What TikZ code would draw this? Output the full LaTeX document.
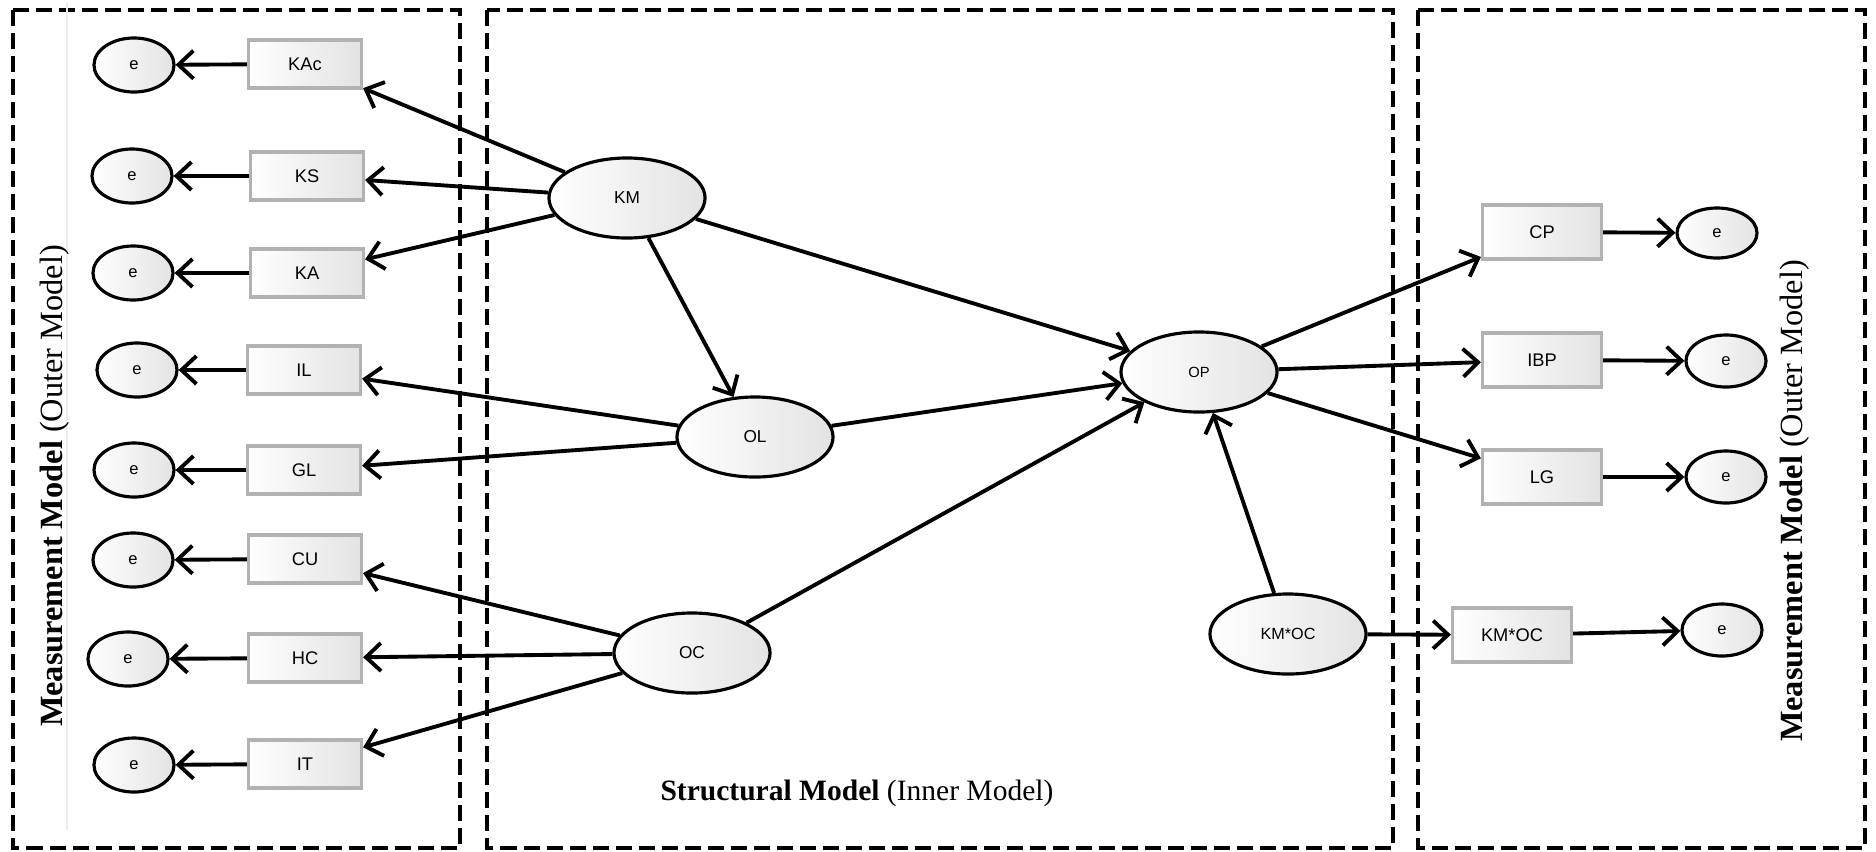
\documentclass[tikz,border=0pt]{standalone}
\usepackage{fontspec}
\setmainfont{Liberation Serif}
\setsansfont{Liberation Sans}
\usetikzlibrary{positioning,arrows.meta,shapes.geometric}
\tikzset{
  ind/.style={rectangle, draw=gray!60, line width=0.9pt, left color=white, right color=gray!22,
    minimum width=1.13cm, minimum height=0.48cm, inner sep=0pt, font=\sffamily\fontsize{5.2}{6}\selectfont},
  indr/.style={ind, minimum width=1.19cm, minimum height=0.54cm},
  lat/.style={ellipse, draw=black, line width=0.9pt, left color=white, right color=gray!22,
    minimum width=1.56cm, minimum height=0.8cm, inner sep=0pt, font=\sffamily\fontsize{4.9}{6}\selectfont},
  err/.style={lat, minimum width=0.8cm, minimum height=0.54cm, font=\sffamily\fontsize{4.7}{6}\selectfont},
  arrow/.style={-{Straight Barb[length=1.5mm,width=2.8mm]}, line width=1.1pt},
  zone/.style={draw, dash pattern=on 1.6mm off 0.7mm, line width=1.4pt}
}
\begin{document}
\begin{tikzpicture}[x=0.01cm, y=-0.01cm]
  \useasboundingbox (0,0) rectangle (1876,851);
  % the three parts of the model
  \draw[zone] (13,10) rectangle (460,848);
  \draw[zone] (487,10) rectangle (1393,848);
  \draw[zone] (1418,10) rectangle (1865,848);
  \draw[gray!15, line width=0.5pt] (67,3) -- (67,830);

  \node[rotate=90, font=\fontsize{9.2}{11}\selectfont] (mleft) at (55,486) {\textbf{Measurement Model} (Outer Model)};
  \node[rotate=90, font=\fontsize{9.2}{11}\selectfont] (mright) at (1795,501) {\textbf{Measurement Model} (Outer Model)};
  \node[font=\fontsize{8.4}{10}\selectfont] (inner) at (857,793) {\textbf{Structural Model} (Inner Model)};

  % latent variables
  \node[lat] (km) at (627,198) {KM};
  \node[lat] (ol) at (755,437) {OL};
  \node[lat] (oc) at (692,653) {OC};
  \node[lat, font=\sffamily\fontsize{4.2}{5}\selectfont] (op) at (1199,372) {OP};
  \node[lat, font=\sffamily\fontsize{4.6}{5}\selectfont] (kmoc) at (1288,634) {KM*OC};

  % indicators, left side
  \node[ind] (kac) at (305,64) {KAc};
  \node[ind] (ks) at (307,176) {KS};
  \node[ind] (ka) at (307,273) {KA};
  \node[ind] (il) at (304,370) {IL};
  \node[ind] (gl) at (304,470) {GL};
  \node[ind] (cu) at (305,559) {CU};
  \node[ind] (hc) at (305,658) {HC};
  \node[ind] (it) at (305,764) {IT};

  \node[err] (ekac) at (134,65) {e};
  \node[err] (eks) at (132,176) {e};
  \node[err] (eka) at (133,273) {e};
  \node[err] (eil) at (137,370) {e};
  \node[err] (egl) at (134,470) {e};
  \node[err] (ecu) at (133,560) {e};
  \node[err] (ehc) at (128,659) {e};
  \node[err] (eit) at (134,765) {e};

  % indicators, right side
  \node[indr] (cp) at (1542,232) {CP};
  \node[indr] (ibp) at (1542,360) {IBP};
  \node[indr] (lg) at (1542,477) {LG};
  \node[indr] (kmocind) at (1512,635) {KM*OC};

  \node[err, minimum height=0.5cm] (ecp) at (1717,233) {e};
  \node[err, minimum height=0.52cm] (eibp) at (1726,361) {e};
  \node[err, minimum height=0.52cm] (elg) at (1726,477) {e};
  \node[err, minimum height=0.52cm] (ekmoc) at (1722,630) {e};

  % outer model
  \draw[arrow] (km) -- (kac);
  \draw[arrow] (km) -- (ks);
  \draw[arrow] (km) -- (ka);
  \draw[arrow] (ol) -- (il);
  \draw[arrow] (ol) -- (gl);
  \draw[arrow] (oc) -- (cu);
  \draw[arrow] (oc) -- (hc);
  \draw[arrow] (oc) -- (it);
  \draw[arrow] (kac) -- (ekac);
  \draw[arrow] (ks) -- (eks);
  \draw[arrow] (ka) -- (eka);
  \draw[arrow] (il) -- (eil);
  \draw[arrow] (gl) -- (egl);
  \draw[arrow] (cu) -- (ecu);
  \draw[arrow] (hc) -- (ehc);
  \draw[arrow] (it) -- (eit);
  \draw[arrow] (op) -- (cp);
  \draw[arrow] (op) -- (ibp);
  \draw[arrow] (op) -- (lg);
  \draw[arrow] (kmoc) -- (kmocind);
  \draw[arrow] (cp) -- (ecp);
  \draw[arrow] (ibp) -- (eibp);
  \draw[arrow] (lg) -- (elg);
  \draw[arrow] (kmocind) -- (ekmoc);

  % inner model
  \draw[arrow] (km) -- (ol);
  \draw[arrow] (km) -- (op);
  \draw[arrow] (ol) -- (op);
  \draw[arrow] (oc) -- (op);
  \draw[arrow] (kmoc) -- (op);
\end{tikzpicture}
\end{document}
